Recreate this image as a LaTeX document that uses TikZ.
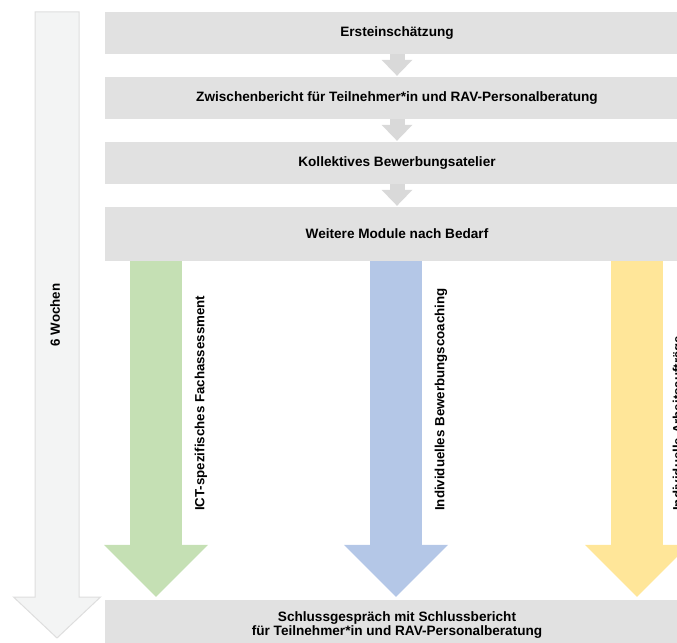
\documentclass[tikz,border=0pt]{standalone}
\usepackage{fontspec}
\setmainfont{Liberation Sans}
\usetikzlibrary{arrows.meta}

\definecolor{bargray}{RGB}{225,225,225}
\definecolor{stepgray}{RGB}{217,217,217}
\definecolor{timefill}{RGB}{243,244,244}
\definecolor{timeline}{RGB}{222,222,222}
\definecolor{ictgreen}{RGB}{197,224,180}
\definecolor{coachblue}{RGB}{180,199,231}
\definecolor{jobyellow}{RGB}{255,230,153}

\tikzset{
  bar/.style={fill=bargray, minimum width=584bp, inner sep=0pt, align=center,
    font=\fontsize{13.6bp}{12bp}\selectfont\bfseries},
  stepon/.style={stepgray, line width=15bp,
    -{Triangle[width=31bp, length=16bp, line width=0pt]}, shorten >=1bp},
  module/.style={line width=52bp,
    -{Triangle[width=104bp, length=52bp, line width=0pt]}, shorten >=3bp},
  vlabel/.style={rotate=90, anchor=west, inner sep=0pt,
    font=\fontsize{13.3bp}{15bp}\selectfont\bfseries}
}

\begin{document}
\begin{tikzpicture}[x=1bp, y=-1bp]
      \useasboundingbox (0,0) rectangle (677,643);
      \clip (0,0) rectangle (677,643);
      % time axis
      \draw[fill=timefill, draw=timeline, line width=1bp]
        (35,12) -- (79,12) -- (79,597) -- (100.5,597) -- (57,638)
        -- (13.5,597) -- (35,597) -- cycle;
      \node[vlabel, anchor=center] (9) at (55,315) {6 Wochen};
      % steps
      \node[bar, minimum height=42bp] (0) at (397,33) {Ersteinschätzung};
      \node[bar, minimum height=42bp] (1) at (397,98) {Zwischenbericht für Teilnehmer*in und RAV-Personalberatung};
      \node[bar, minimum height=42bp] (2) at (397,163) {Kollektives Bewerbungsatelier};
      \node[bar, minimum height=54bp] (3) at (397,234) {Weitere Module nach Bedarf};
      \node[bar, minimum height=50bp] (4) at (397,625) {Schlussgespräch mit Schlussbericht\\für Teilnehmer*in und RAV-Personalberatung};
      \draw[stepon] (0) -- (1);
      \draw[stepon] (1) -- (2);
      \draw[stepon] (2) -- (3);
      % modules
      \coordinate (5) at (156,0);
      \coordinate (6) at (396,0);
      \coordinate (7) at (637,0);
      \draw[module, ictgreen] (3.south -| 5) -- (4.north -| 5);
      \draw[module, coachblue] (3.south -| 6) -- (4.north -| 6);
      \draw[module, jobyellow] (3.south -| 7) -- (4.north -| 7);
      \node[vlabel] (10) at (201,511) {ICT-spezifisches Fachassessment};
      \node[vlabel] (11) at (441,511) {Individuelles Bewerbungscoaching};
      \node[vlabel] (12) at (679,511) {Individuelle Arbeitsaufträge};
\end{tikzpicture}
\end{document}
